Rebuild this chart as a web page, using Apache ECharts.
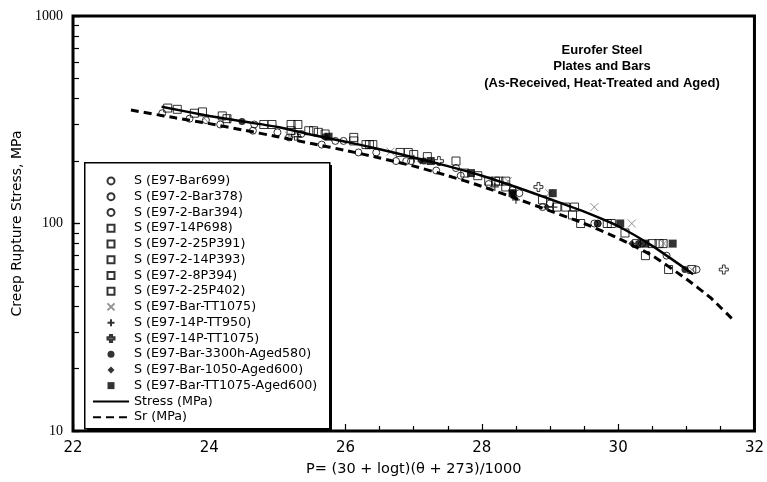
<!DOCTYPE html>
<html>
<head>
<meta charset="utf-8">
<script src="https://cdn.jsdelivr.net/npm/echarts@6/dist/echarts.min.js"></script>
<style>
  html, body { margin: 0; padding: 0; background: #fff; }
  #chart { width: 767px; height: 482px; }
</style>
</head>
<body>
<div id="chart"></div>
<script>
// x ticks and y ticks (log axis: decades plus 2..9 minor)
const xTicks = [22, 24, 26, 28, 30, 32];
const yTicks = [10, 20, 30, 40, 50, 60, 70, 80, 90, 100, 200, 300, 400, 500, 600, 700, 800, 900, 1000];

// fitted curves (P, MPa)
const stressP = [23.3, 24, 24.5, 25, 25.5, 26, 26.5, 27, 27.5, 28, 28.5, 29, 29.5, 30, 30.5, 31.1];
const stressS = [365, 330, 310, 292, 268, 248, 228, 208, 189, 170, 150, 131, 114, 97, 78, 57];
const srP = [22.85, 23.5, 24, 24.5, 25, 25.5, 26, 26.5, 27, 27.5, 28, 28.5, 29, 29.5, 30, 30.5, 31, 31.35, 31.7];
const srS = [352, 323, 303, 282, 262, 243, 225, 207, 189, 170, 151, 132, 115, 100, 85, 70, 54, 44, 34];

// test points [P, MPa]
const bar699 = [[23.31, 340], [23.71, 320], [24.16, 300], [24.64, 280], [25.17, 260], [25.65, 240], [26.19, 220], [26.74, 200], [27.33, 180], [28.55, 140], [28.89, 120], [29.7, 100], [30.71, 70]];
const bar378 = [[24.66, 300], [25.35, 270], [25.85, 250], [26.45, 220], [26.96, 200], [27.69, 170], [28.1, 155], [29.65, 100], [31.15, 60]];
const bar394 = [[23.95, 315], [25.0, 275], [25.97, 250], [26.89, 200], [27.62, 185], [28.45, 145], [29.0, 125], [30.35, 80]];
const p14_698 = [[23.39, 360], [23.9, 345], [24.19, 330], [24.92, 300], [25.46, 280], [26.12, 260], [26.92, 220], [27.62, 200], [28.35, 150], [29.23, 120], [29.45, 100], [30.1, 90], [30.4, 70], [30.74, 60]];
const p25_391 = [[23.53, 355], [23.78, 340], [24.26, 320], [24.8, 300], [25.53, 280], [26.3, 240], [27.94, 170], [28.2, 160], [29.36, 120], [29.84, 100], [30.6, 80]];
const p14_393 = [[25.2, 300], [25.6, 275], [26.12, 250], [26.4, 240], [26.8, 220], [28.1, 160], [28.89, 130], [29.33, 110], [30.27, 80]];
const p8_394 = [[25.2, 280], [25.7, 270], [26.35, 240], [27.0, 215], [28.35, 160], [29.1, 120], [30.5, 80]];
const p25_402 = [[25.3, 300], [27.2, 210], [27.75, 175], [28.25, 160], [29.9, 100], [30.66, 80], [31.08, 60]];
const barTT1075 = [[23.93, 320], [25.17, 265], [26.66, 222], [28.38, 160], [28.99, 140], [29.65, 120], [30.2, 100], [30.67, 80], [31.08, 60]];
const p14TT950 = [[24.3, 318], [25.3, 262], [27.0, 205], [28.19, 150], [28.5, 130], [29.05, 120]];
const p14TT1075 = [[25.27, 265], [27.37, 200], [28.83, 150], [31.55, 60]];
const aged580 = [[24.48, 310], [25.7, 262], [27.15, 200], [28.45, 140], [29.7, 100], [30.3, 80], [30.98, 60]];
const aged1050 = [[27.1, 200], [28.95, 120], [30.2, 80]];
const tt1075Aged = [[25.75, 262], [27.25, 200], [27.84, 175], [28.45, 140], [29.04, 140], [30.03, 100], [30.4, 80], [30.8, 80]];

const sans = 'DejaVu Sans';
const chart = echarts.init(document.getElementById('chart'));

const hollow = { color: 'rgba(0,0,0,0)', borderColor: '#000', borderWidth: 1 };
const SQUARE = 'path://M0,0H10V10H0Z';
const DIAMOND = 'path://M5,0L10,5L5,10L0,5Z';
const CROSS = 'path://M0,0L10,10M10,0L0,10';
const PLUS = 'path://M5,0L5,10M0,5L10,5';
const OPLUS = 'path://M3.5,0H6.5V3.5H10V6.5H6.5V10H3.5V6.5H0V3.5H3.5Z';

function pts(name, data, symbol, size, style) {
  return {
    name: name, type: 'scatter', data: data, symbol: symbol, symbolSize: size,
    itemStyle: style, emphasis: { disabled: true }, z: 3
  };
}

const series = [
  pts('S (E97-Bar699)', bar699, 'circle', 7, hollow),
  pts('S (E97-2-Bar378)', bar378, 'circle', 7, hollow),
  pts('S (E97-2-Bar394)', bar394, 'circle', 7, hollow),
  pts('S (E97-14P698)', p14_698, SQUARE, 8, hollow),
  pts('S (E97-2-25P391)', p25_391, SQUARE, 8, hollow),
  pts('S (E97-2-14P393)', p14_393, SQUARE, 8, hollow),
  pts('S (E97-2-8P394)', p8_394, SQUARE, 8, hollow),
  pts('S (E97-2-25P402)', p25_402, SQUARE, 8, hollow),
  pts('S (E97-Bar-TT1075)', barTT1075, CROSS, 8, { color: 'none', borderColor: '#777', borderWidth: 1 }),
  pts('S (E97-14P-TT950)', p14TT950, PLUS, 8, { color: 'none', borderColor: '#000', borderWidth: 1.2 }),
  pts('S (E97-14P-TT1075)', p14TT1075, OPLUS, 9, hollow),
  pts('S (E97-Bar-3300h-Aged580)', aged580, 'circle', 7, { color: '#000' }),
  pts('S (E97-Bar-1050-Aged600)', aged1050, DIAMOND, 7, { color: '#000' }),
  pts('S (E97-Bar-TT1075-Aged600)', tt1075Aged, SQUARE, 8, { color: '#000' }),
  {
    name: 'Stress (MPa)', type: 'line', smooth: 0.2, symbol: 'none', z: 4,
    data: stressP.map((p, i) => [p, stressS[i]]),
    lineStyle: { color: '#000', width: 2.5 }, itemStyle: { color: 'rgba(0,0,0,0)' }
  },
  {
    name: 'Sr (MPa)', type: 'line', smooth: 0.2, symbol: 'none', z: 4,
    data: srP.map((p, i) => [p, srS[i]]),
    lineStyle: { color: '#000', width: 3, type: [8, 5] }, itemStyle: { color: 'rgba(0,0,0,0)' }
  }
];

chart.setOption({
  backgroundColor: '#fff',
  animation: false,
  title: {
    text: 'Eurofer Steel\nPlates and Bars\n(As-Received, Heat-Treated and Aged)',
    left: 597, top: 37, textAlign: 'center',
    textStyle: { fontFamily: 'Liberation Sans', fontWeight: 'bold', fontSize: 13, lineHeight: 16.5, color: '#000' }
  },
  grid: { left: 73, right: 9, top: 16, bottom: 50, show: true, borderColor: '#000', borderWidth: 3 },
  // legend frame with a hard drop shadow on the right and bottom
  graphic: [
    { type: 'rect', left: 87, top: 165, z: 5, shape: { width: 245, height: 266 }, style: { fill: '#000' } },
    { type: 'rect', left: 84, top: 162, z: 5, shape: { width: 245, height: 266 }, style: { fill: '#fff', stroke: '#000', lineWidth: 1.5 } }
  ],
  legend: {
    orient: 'vertical', left: 84, top: 165, z: 6,
    padding: [8, 8, 8, 8], itemGap: 0, itemWidth: 36, itemHeight: 7,
    textStyle: { fontFamily: sans, fontSize: 12.7, lineHeight: 15.75, color: '#000' },
    selectedMode: false,
    data: series.map(s => s.name)
  },
  xAxis: {
    type: 'value', min: xTicks[0], max: xTicks[xTicks.length - 1], interval: 2,
    name: 'P= (30 + logt)(\u03b8 + 273)/1000', nameLocation: 'middle', nameGap: 31,
    nameTextStyle: { fontFamily: sans, fontSize: 14.5, color: '#000' },
    axisLine: { show: false },
    axisTick: { show: true, inside: true, length: 7, lineStyle: { color: '#000', width: 1.2 } },
    minorTick: { show: true, splitNumber: 4, length: 5, lineStyle: { color: '#000', width: 1.2 } },
    splitLine: { show: false },
    axisLabel: { fontFamily: sans, fontSize: 15, color: '#000', margin: 10 }
  },
  yAxis: [
    {
      type: 'log', logBase: 10, min: 10, max: 1000,
      name: 'Creep Rupture Stress, MPa', nameLocation: 'middle', nameGap: 44,
      nameTextStyle: { fontFamily: sans, fontSize: 14, color: '#000' },
      axisLine: { show: false }, splitLine: { show: false },
      axisTick: { show: true, inside: true, length: 7, lineStyle: { color: '#000', width: 1.2 } },
      axisLabel: { fontFamily: 'Liberation Serif', fontSize: 14, color: '#000', margin: 10, formatter: v => String(v) }
    },
    {
      type: 'value', min: 1, max: 3, position: 'left',
      axisLine: { show: false }, splitLine: { show: false }, axisLabel: { show: false },
      axisTick: {
        show: true, inside: true, length: 6, lineStyle: { color: '#000', width: 1.2 },
        customValues: yTicks.map(v => Math.log10(v))
      }
    }
  ],
  series: series
});
</script>
</body>
</html>
